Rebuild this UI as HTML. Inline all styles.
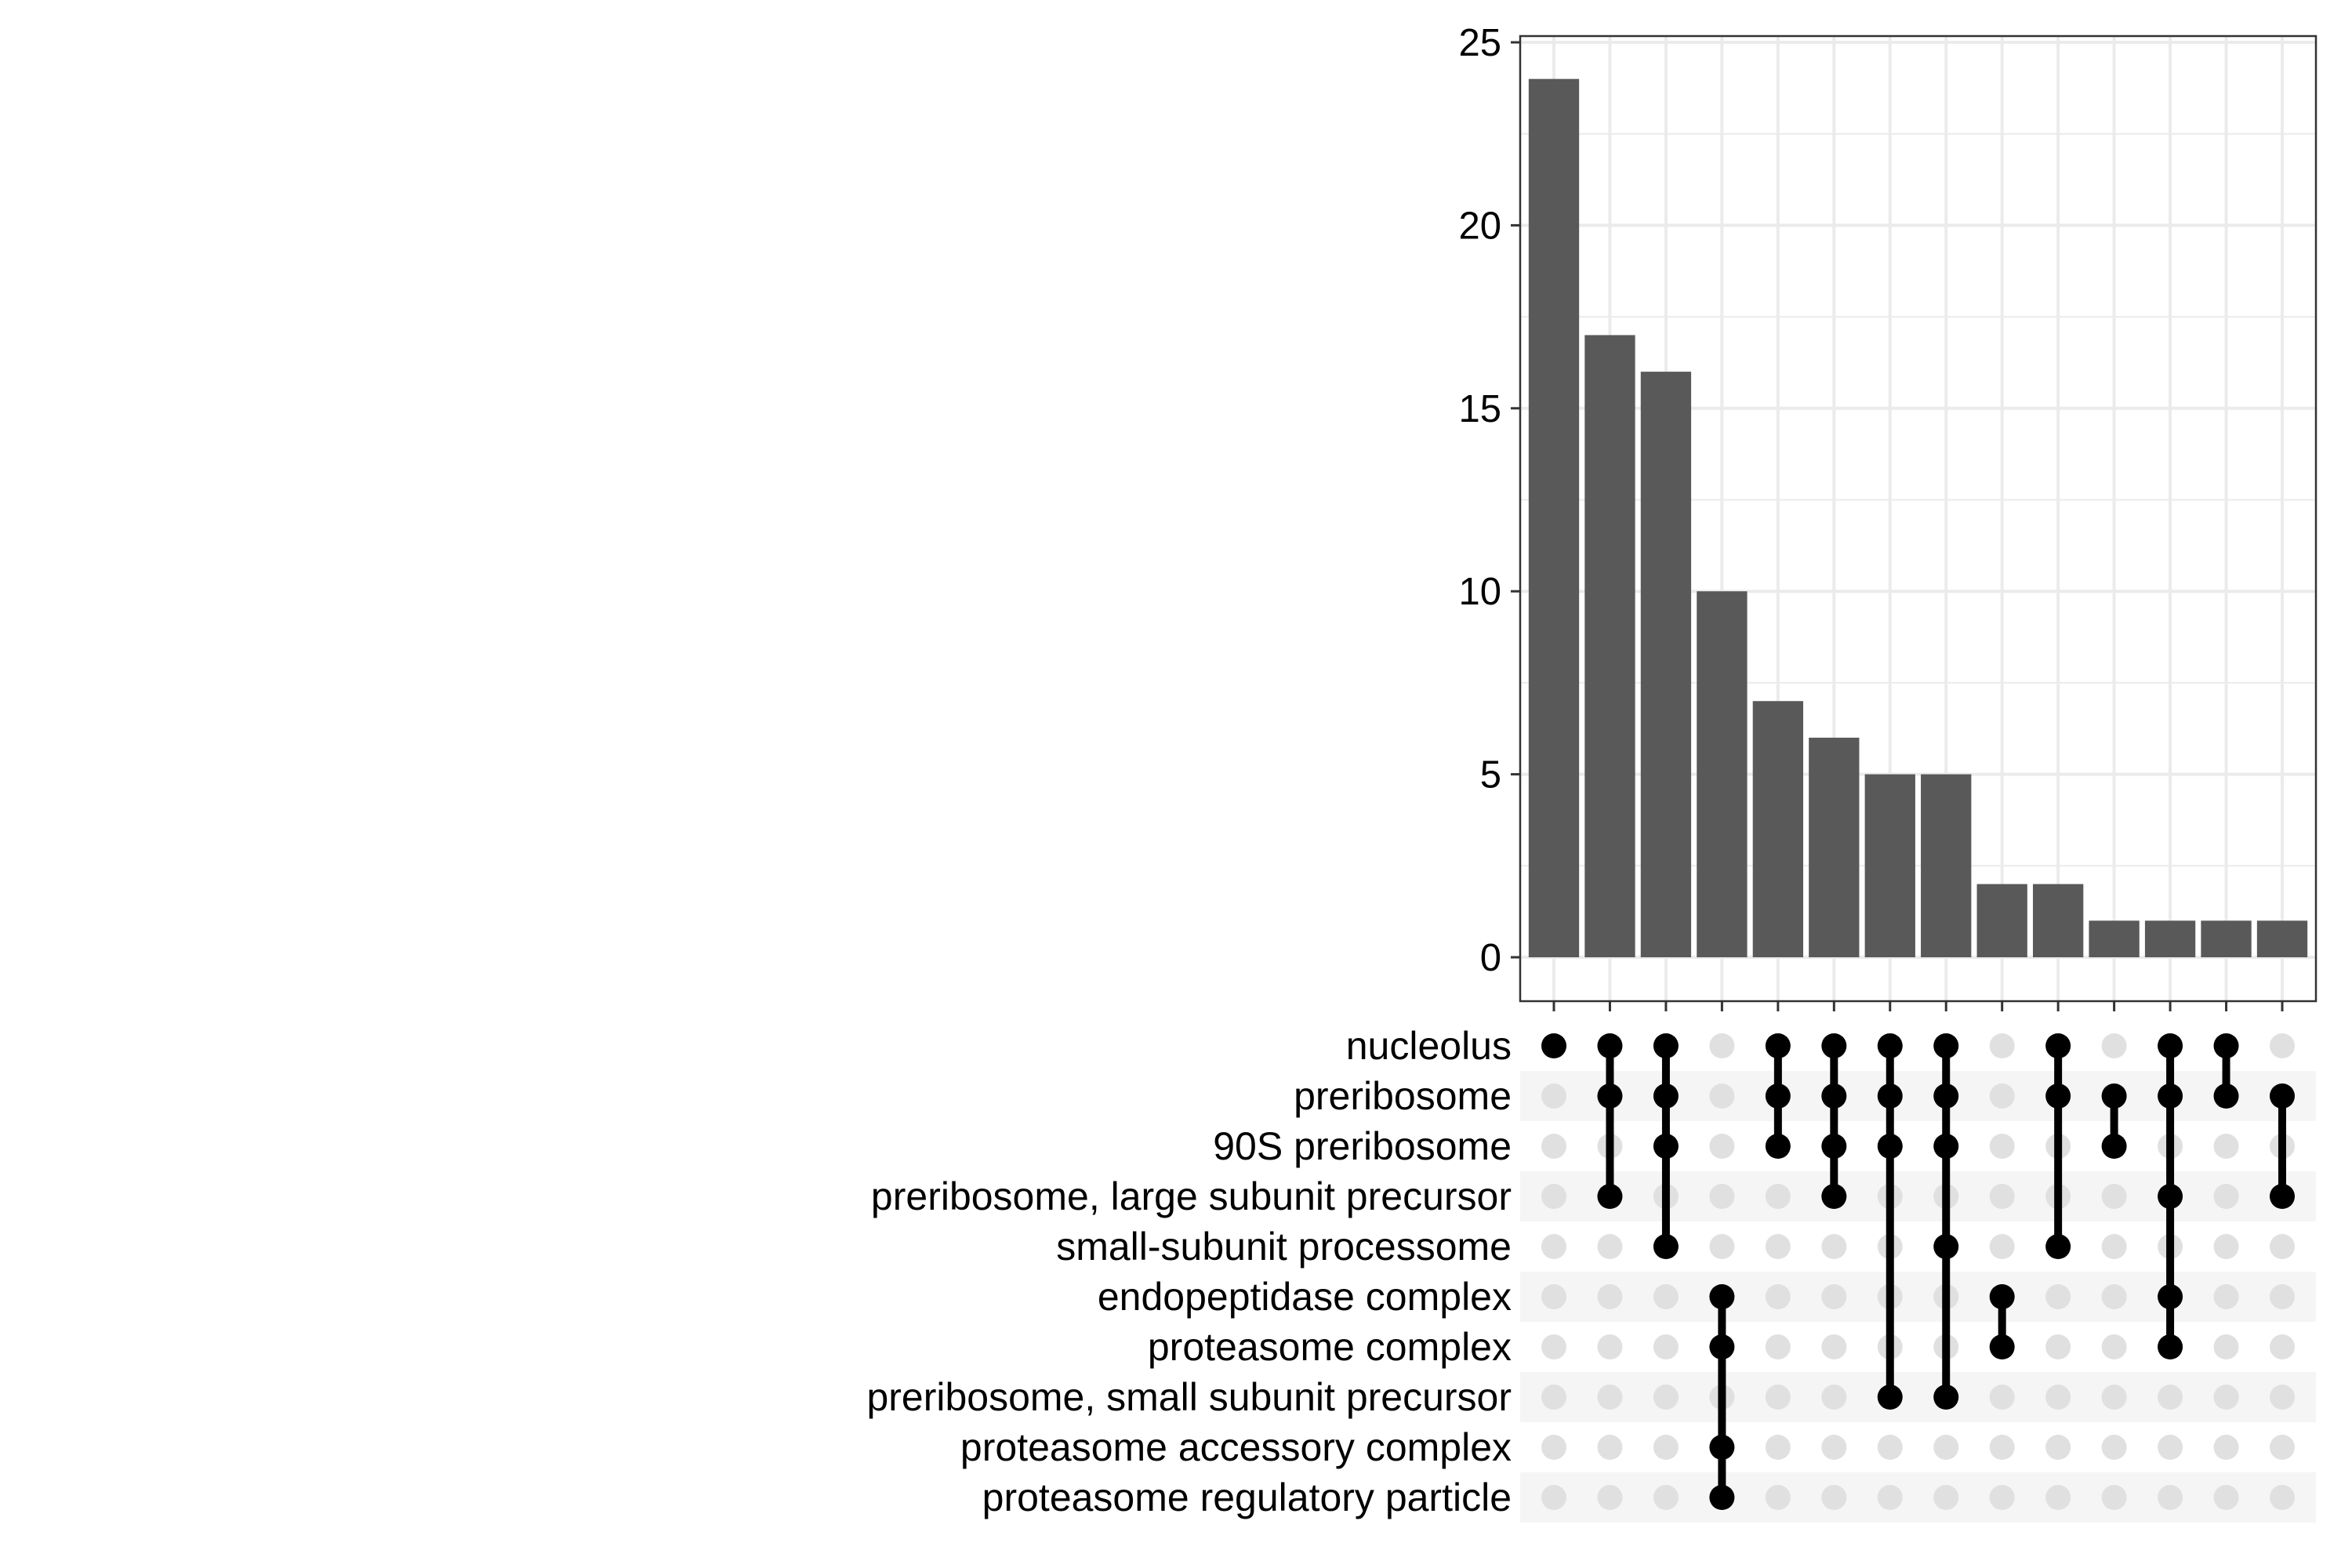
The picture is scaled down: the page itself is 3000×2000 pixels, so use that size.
<!DOCTYPE html>
<html><head><meta charset="utf-8"><style>
html,body{margin:0;padding:0;background:#fff;}
svg{display:block;font-family:"Liberation Sans",Arial,sans-serif;}
</style></head><body>
<svg id="chart" width="3000" height="2000" viewBox="0 0 3000 2000" xmlns="http://www.w3.org/2000/svg">
<g id="bands"></g><g id="grid"></g><g id="bars"></g><g id="frame"></g><g id="yaxis"></g><g id="xticks"></g><g id="matrix"></g><g id="labels"></g>
</svg>
<script>
const counts = [24, 17, 16, 10, 7, 6, 5, 5, 2, 2, 1, 1, 1, 1];
const setNames = ["nucleolus","preribosome","90S preribosome","preribosome, large subunit precursor","small-subunit processome","endopeptidase complex","proteasome complex","preribosome, small subunit precursor","proteasome accessory complex","proteasome regulatory particle"];
const memberships = [[0],[0,1,3],[0,1,2,4],[5,6,8,9],[0,1,2],[0,1,2,3],[0,1,2,7],[0,1,2,4,7],[5,6],[0,1,4],[1,2],[0,1,3,5,6],[0,1],[1,3]];
const yTicks = [0, 5, 10, 15, 20, 25];

const NS = "http://www.w3.org/2000/svg";
const L = 1939, R = 2954, T = 46, B = 1277;
const col0 = 1982, colStep = (2911 - 1982) / 13;
const y0 = 1221, yUnit = (1221 - 54) / 25;
const row0 = 1334, rowStep = 64;
const xS = i => col0 + i * colStep;
const yS = v => y0 - v * yUnit;
const rS = j => row0 + j * rowStep;
function mk(tag, attrs, parent) {
  const e = document.createElementNS(NS, tag);
  for (const k in attrs) e.setAttribute(k, attrs[k]);
  document.getElementById(parent).appendChild(e);
  return e;
}
for (let v = 2.5; v <= 25; v += 5) {
  const g = mk("line", {x1: L, x2: R, y1: yS(v), y2: yS(v), stroke: "#ebebeb", "stroke-width": 2}, "grid");
  
  
}
yTicks.forEach(v => {
  const g = mk("line", {x1: L, x2: R, y1: yS(v), y2: yS(v), stroke: "#ebebeb", "stroke-width": 4}, "grid");
  
  
  const t = mk("line", {x1: 1927, x2: L, y1: yS(v), y2: yS(v), stroke: "#333", "stroke-width": 3}, "yaxis");
  
  
  const lb = mk("text", {x: 1915, y: yS(v) + 17, "text-anchor": "end", "font-size": 49, fill: "#000"}, "yaxis");
  lb.textContent = v;
  
  
});
counts.forEach((c, i) => {
  const g = mk("line", {x1: xS(i), x2: xS(i), y1: T, y2: B, stroke: "#ebebeb", "stroke-width": 4}, "grid");
  
  
  const w = colStep * 0.9;
  const b = mk("rect", {x: xS(i) - w / 2, y: yS(c), width: w, height: yS(0) - yS(c), fill: "#595959"}, "bars");
  
  
  const t = mk("line", {x1: xS(i), x2: xS(i), y1: B, y2: B + 13, stroke: "#333", "stroke-width": 3}, "xticks");
  
  
});
const fr = mk("rect", {x: L, y: T, width: R - L, height: B - T, fill: "none", stroke: "#333", "stroke-width": 2.5}, "frame");


setNames.forEach((n, j) => {
  if (j % 2 === 1) {
    const bd = mk("rect", {x: L, y: rS(j) - rowStep / 2, width: R - L, height: rowStep, fill: "#f5f5f5"}, "bands");
    
    
  }
  const lb = mk("text", {x: 1928, y: rS(j) + 17, "text-anchor": "end", "font-size": 50, fill: "#000"}, "labels");
  lb.textContent = n;
  
  
});
memberships.forEach((m, i) => {
  setNames.forEach((n, j) => {
    const d = mk("circle", {cx: xS(i), cy: rS(j), r: 16, fill: "#e0e0e0"}, "matrix");
    
    
  });
  if (m.length > 1) {
    const ln = mk("line", {x1: xS(i), x2: xS(i), y1: rS(Math.min(...m)), y2: rS(Math.max(...m)), stroke: "#000", "stroke-width": 10}, "matrix");
    
    
  }
  m.forEach(j => {
    const d = mk("circle", {cx: xS(i), cy: rS(j), r: 16, fill: "#000"}, "matrix");
    
    
  });
});
</script>
</body></html>
